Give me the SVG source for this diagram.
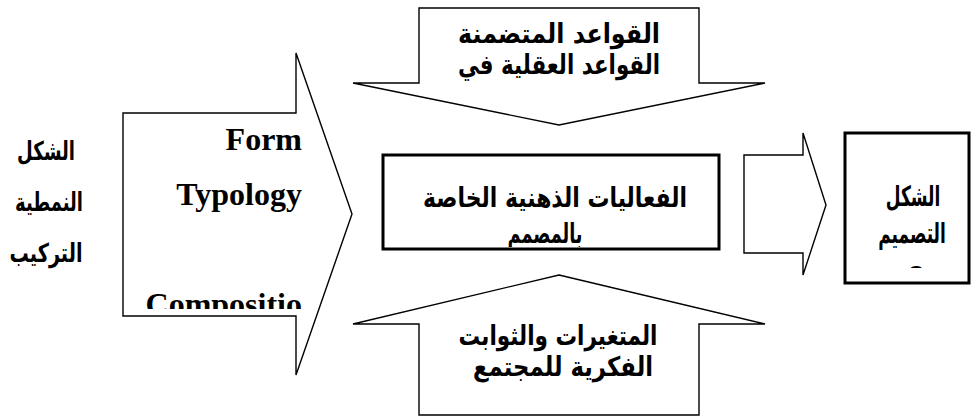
<svg xmlns="http://www.w3.org/2000/svg" width="978" height="418" viewBox="0 0 978 418">
<style>
.shape{fill:#fff;stroke:#000;stroke-width:1.4;stroke-linejoin:miter}
.box{fill:#fff;stroke:#000;stroke-width:3}
.ar{font-family:"DejaVu Sans","Liberation Sans",sans-serif;font-weight:bold;fill:#000;text-anchor:middle;direction:rtl}
.en{font-family:"Liberation Serif","Times New Roman",serif;font-weight:bold;font-size:32px;fill:#000;text-anchor:end}
</style>
<defs>
<clipPath id="clipLeft"><rect x="123" y="113" width="180" height="196"/></clipPath>
<clipPath id="clipCenter"><rect x="385" y="157" width="332" height="90"/></clipPath>
<clipPath id="clipRight"><rect x="847" y="250" width="120" height="18"/></clipPath>
</defs>
<rect width="978" height="418" fill="#fff"/>
<g id="connectors">
<polygon id="arrow-left" class="shape" points="123,113 296,113 296,53 352,214 296,375 296,316 123,316"/>
<polygon id="arrow-top" class="shape" points="419,8 699,8 699,83 765,83 559,125 353,83 419,83"/>
<polygon id="arrow-bottom" class="shape" points="559,275 765,324 699,324 699,415 419,415 419,324 353,324"/>
<polygon id="arrow-right" class="shape" points="744,155 803,155 803,133 826,205 803,275 803,253 744,253"/>
</g>
<g id="node-left-labels">
<text class="ar" x="46" y="160" font-size="26" textLength="58" lengthAdjust="spacingAndGlyphs">الشكل</text>
<text class="ar" x="49" y="211" font-size="26" textLength="68" lengthAdjust="spacingAndGlyphs">النمطية</text>
<text class="ar" x="46" y="262" font-size="26" textLength="73" lengthAdjust="spacingAndGlyphs">التركيب</text>
</g>
<g id="node-form" clip-path="url(#clipLeft)">
<text class="en" x="302" y="150">Form</text>
<text class="en" x="302" y="205">Typology</text>
<text class="en" x="302" y="315">Compositio</text>
</g>
<g id="node-top">
<text class="ar" x="559" y="43" font-size="27" textLength="202" lengthAdjust="spacingAndGlyphs">القواعد المتضمنة</text>
<text class="ar" x="559" y="74" font-size="27" textLength="202" lengthAdjust="spacingAndGlyphs">القواعد العقلية في</text>
</g>
<g id="node-center">
<rect class="box" x="383" y="155" width="336" height="94"/>
<g clip-path="url(#clipCenter)">
<text class="ar" x="555" y="207" font-size="27" textLength="264" lengthAdjust="spacingAndGlyphs">الفعاليات الذهنية الخاصة</text>
<text class="ar" x="545" y="243" font-size="27" textLength="75" lengthAdjust="spacingAndGlyphs">بالمصمم</text>
</g>
</g>
<g id="node-bottom">
<text class="ar" x="558" y="345" font-size="27" textLength="199" lengthAdjust="spacingAndGlyphs">المتغيرات والثوابت</text>
<text class="ar" x="563" y="376" font-size="27" textLength="180" lengthAdjust="spacingAndGlyphs">الفكرية للمجتمع</text>
</g>
<g id="node-right">
<rect class="box" x="845" y="133" width="124" height="150"/>
<text class="ar" font-size="17" transform="translate(913,206) scale(1,1.65)">الشكل</text>
<text class="ar" font-size="17" transform="translate(912,243) scale(1,1.65)">التصميم</text>
<g clip-path="url(#clipRight)">
<text class="ar" x="912" y="278" font-size="26">ي</text>
</g>
</g>
</svg>
